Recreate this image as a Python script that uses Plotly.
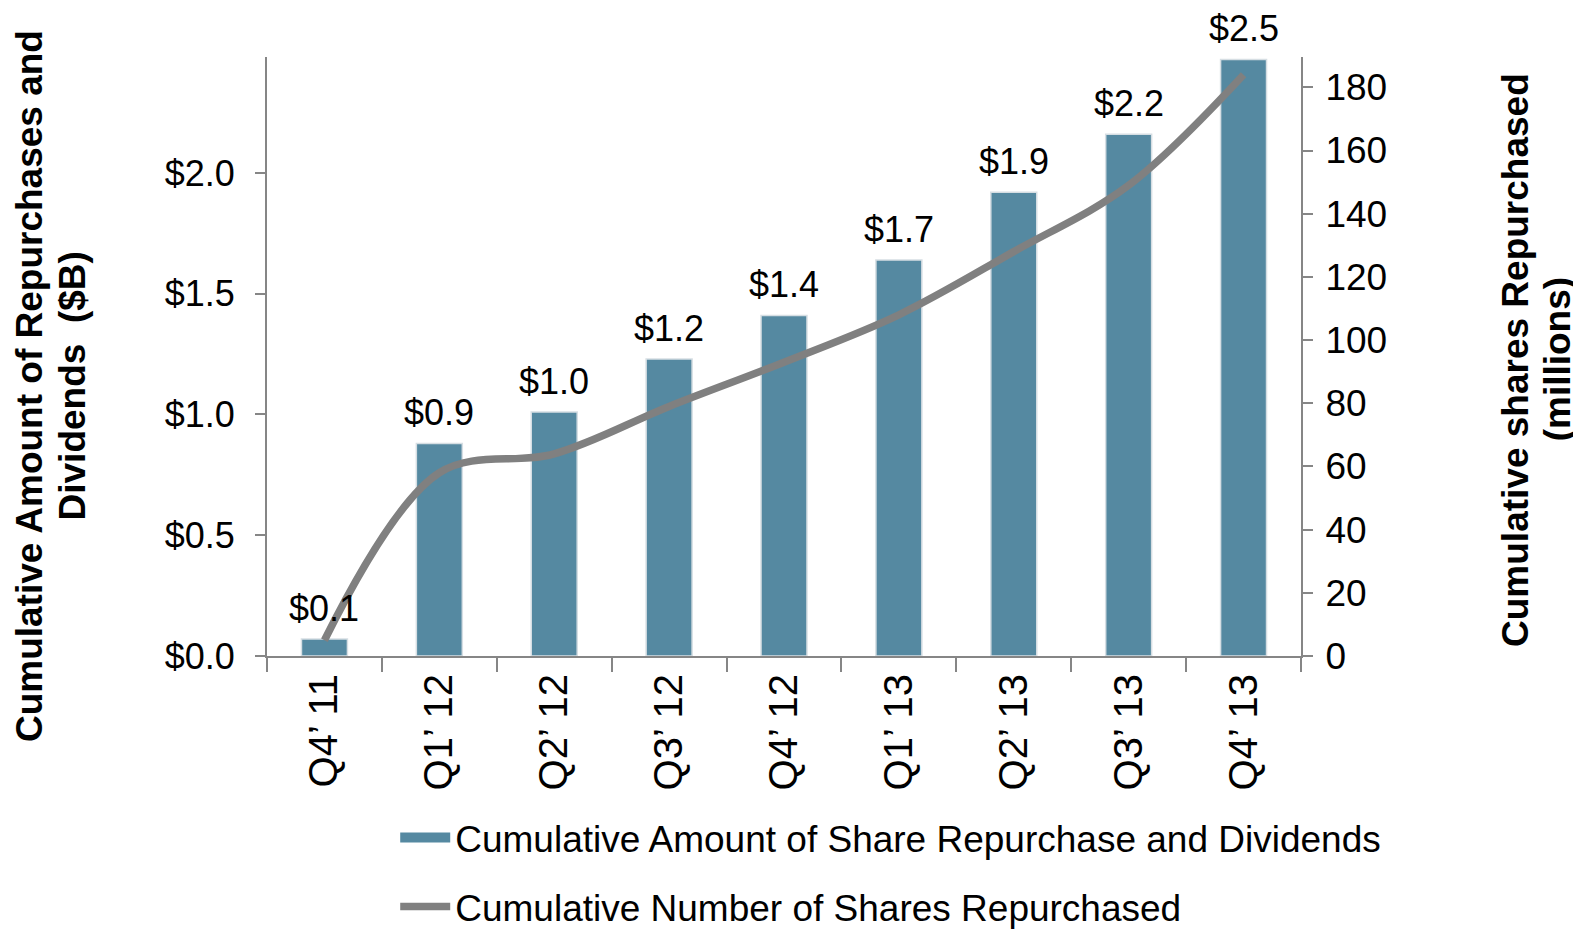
import plotly.graph_objects as go

categories = ["Q4\u2019 11", "Q1\u2019 12", "Q2\u2019 12", "Q3\u2019 12", "Q4\u2019 12",
              "Q1\u2019 13", "Q2\u2019 13", "Q3\u2019 13", "Q4\u2019 13"]
amount_bn = [0.07, 0.88, 1.01, 1.23, 1.41, 1.64, 1.92, 2.16, 2.47]
amount_labels = ["$0.1", "$0.9", "$1.0", "$1.2", "$1.4", "$1.7", "$1.9", "$2.2", "$2.5"]
shares_mn = [5, 58, 64, 79, 93, 108, 128, 149, 184]
left_ticks = [0.0, 0.5, 1.0, 1.5, 2.0]
left_tick_text = ["$0.0", "$0.5", "$1.0", "$1.5", "$2.0"]
right_ticks = [0, 20, 40, 60, 80, 100, 120, 140, 160, 180]
left_title_lines = ["Cumulative Amount of Repurchases and", "Dividends  ($B)"]
right_title_lines = ["Cumulative shares Repurchased", "(millions)"]

FONT = "Liberation Sans, Arial, sans-serif"
BAR_COLOR = "#5589A1"
LINE_COLOR = "#808080"
AXIS_COLOR = "#868686"

fig = go.Figure()
fig.add_trace(go.Bar(
    x=categories, y=amount_bn,
    name="Cumulative Amount of Share Repurchase and Dividends",
    marker=dict(color=BAR_COLOR, line=dict(color="#D6DEE3", width=1.5)),
    width=0.4, showlegend=False,
))
# legend entry for bars with a wide rectangular swatch
fig.add_trace(go.Scatter(
    x=[None], y=[None], mode="lines",
    name="Cumulative Amount of Share Repurchase and Dividends",
    line=dict(color=BAR_COLOR, width=17), legendgroup="a", hoverinfo="skip",
))
fig.add_trace(go.Scatter(
    x=categories, y=shares_mn, yaxis="y2", mode="lines",
    name="Cumulative Number of Shares Repurchased",
    line=dict(color=LINE_COLOR, width=7.5, shape="spline", smoothing=1.0),
    legendgroup="b",
))

for c, v, t in zip(categories, amount_bn, amount_labels):
    fig.add_annotation(x=c, y=v, xref="x", yref="y", text=t, showarrow=False,
                       yanchor="bottom", yshift=8,
                       font=dict(family=FONT, size=36, color="#000000"))

title_font = dict(family=FONT, size=37, color="#000000")
for xpos, line in zip([-0.229, -0.188], left_title_lines):
    fig.add_annotation(xref="paper", yref="paper", x=xpos, y=0.451, xanchor="center", yanchor="middle",
                       text="<b>" + line + "</b>", textangle=-90, showarrow=False, font=title_font)
for xpos, line in zip([1.2074, 1.2484], right_title_lines):
    fig.add_annotation(xref="paper", yref="paper", x=xpos, y=0.495, xanchor="center", yanchor="middle",
                       text="<b>" + line + "</b>", textangle=-90, showarrow=False, font=title_font)

# page body adds an 8px margin, so the figure is 8px smaller than the window
fig.update_layout(
    width=1573, height=924,
    margin=dict(l=259, r=280, t=49, b=276, autoexpand=False),
    paper_bgcolor="white", plot_bgcolor="white",
    font=dict(family=FONT, size=36, color="#000000"),
    showlegend=True,
    legend=dict(orientation="v", x=0.124, y=-0.252, xanchor="left", yanchor="top",
                font=dict(family=FONT, size=37, color="#000000"),
                tracegroupgap=18, traceorder="grouped", itemwidth=50,
                bgcolor="rgba(0,0,0,0)", borderwidth=0),
    xaxis=dict(type="category", tickangle=-90, showline=True, linecolor=AXIS_COLOR, linewidth=2,
               ticks="outside", tickson="boundaries", ticklen=14, tickcolor=AXIS_COLOR, tickwidth=2,
               showgrid=False, tickfont=dict(family=FONT, size=40)),
    yaxis=dict(range=[0, 2.48], tickvals=left_ticks, ticktext=left_tick_text,
               showline=True, linecolor=AXIS_COLOR, linewidth=2, ticks="outside", ticklen=10,
               tickcolor=AXIS_COLOR, tickwidth=2, showgrid=False, zeroline=False,
               ticklabelstandoff=13, tickfont=dict(family=FONT, size=36)),
    yaxis2=dict(range=[0, 189.6], tickvals=right_ticks, overlaying="y", side="right",
                showline=True, linecolor=AXIS_COLOR, linewidth=2, ticks="outside", ticklen=10,
                tickcolor=AXIS_COLOR, tickwidth=2, showgrid=False, zeroline=False,
                ticklabelstandoff=5, tickfont=dict(family=FONT, size=37)),
)

fig.write_html("out.html")
